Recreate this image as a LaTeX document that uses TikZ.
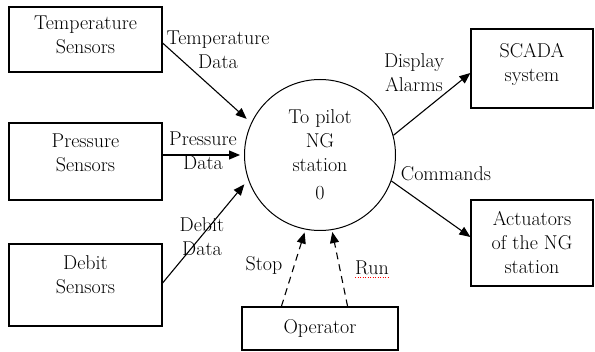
\documentclass[tikz,border=0pt]{standalone}
\usetikzlibrary{arrows.meta}

\tikzset{
  block/.style={draw, line width=1.2pt, inner sep=0pt, align=center},
  flow/.style={-{Triangle[length=11pt,width=9pt]}, line width=1.1pt},
  ctrl/.style={flow, dash pattern=on 7pt off 5pt},
  lbl/.style={align=center, inner sep=0pt},
}

\begin{document}
\begin{tikzpicture}[x=1pt, y=-1pt, font=\fontsize{20}{24}\selectfont]
        \useasboundingbox (0,0) rectangle (595,352);

        % entities
        \node[block, minimum width=153pt, minimum height=65pt, text depth=9pt] (temp) at (85.5,39.5) {Temperature\\Sensors};
        \node[block, minimum width=153pt, minimum height=77pt, text depth=18pt] (pres) at (85.5,161.5) {Pressure\\Sensors};
        \node[block, minimum width=153pt, minimum height=82pt, text depth=20pt] (debit) at (85.5,285) {Debit\\Sensors};
        \node[block, minimum width=156pt, minimum height=43pt] (oper) at (320,328.5) {Operator};
        \node[block, minimum width=122pt, minimum height=79pt, text depth=13pt] (scada) at (532,68.5) {SCADA\\system};
        \node[block, minimum width=122pt, minimum height=86pt] (act) at (532,243) {Actuators\\of the NG\\station};

        % process
        \node[draw, circle, line width=1pt, minimum size=151pt, inner sep=0pt, align=center] (pilot) at (320,155) {To pilot\\NG\\station\\[4pt]0};

        % flows
        \draw[flow, shorten >=6pt] ([yshift=-3.5pt]temp.east) -- (pilot.155);
        \draw[flow, shorten >=4pt] (pres.east |- pilot.west) -- (pilot.west);
        \draw[flow, shorten >=6pt] ([yshift=2pt]debit.east) -- (pilot.199);
        \draw[flow] (pilot.15) -- ([yshift=-4.5pt]scada.west);
        \draw[flow] (pilot.-20) -- ([yshift=6pt]act.west);
        \draw[ctrl, shorten >=3pt] ([xshift=40pt]oper.north west) -- (pilot.259);
        \draw[ctrl, shorten >=2pt] ([xshift=-51pt]oper.north east) -- (pilot.-81);

        % labels
        \node[lbl] (tdata) at (218,50) {Temperature\\Data};
        \node[lbl] (pdata) at (203,151) {Pressure\\Data};
        \node[lbl] (ddata) at (202,237) {Debit\\Data};
        \node[lbl] (alarms) at (414,73) {Display\\Alarms};
        \node[lbl] (cmds) at (446,174) {Commands};
        \node[lbl] (stop) at (264,265) {Stop};
        \node[lbl] (run) at (372,268) {Run};
        \draw[red, line width=1pt, dash pattern=on 1pt off 1.5pt] ([yshift=-3pt]run.base west) -- ([yshift=-3pt]run.base east);
\end{tikzpicture}
\end{document}
